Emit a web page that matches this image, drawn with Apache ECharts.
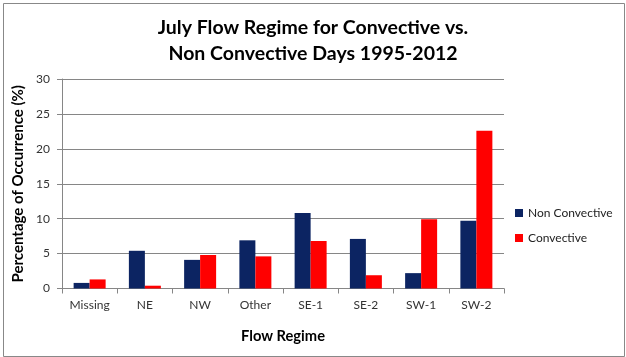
<!DOCTYPE html>
<html>
<head>
<meta charset="utf-8">
<script src="https://cdn.jsdelivr.net/npm/echarts@6/dist/echarts.min.js"></script>
<style>
html,body{margin:0;padding:0;background:#fff;}
#chart{width:626px;height:357px;}
</style>
</head>
<body>
<div id="chart"></div>
<script>
const categories = ['Missing', 'NE', 'NW', 'Other', 'SE-1', 'SE-2', 'SW-1', 'SW-2'];
const nonConvective = [0.8, 5.4, 4.1, 6.9, 10.8, 7.1, 2.2, 9.7];
const convective = [1.3, 0.4, 4.8, 4.6, 6.8, 1.9, 9.9, 22.6];
const yTicks = [0, 5, 10, 15, 20, 25, 30];

const FONT = 'Lato, "Open Sans", sans-serif';
const chart = echarts.init(document.getElementById('chart'), null, {renderer: 'canvas'});
chart.setOption({
  backgroundColor: '#fff',
  animation: false,
  title: {
    text: 'July Flow Regime for Convective vs.\nNon Convective Days 1995-2012',
    left: 'center',
    top: 10,
    textStyle: {fontFamily: FONT, fontSize: 19.5, fontWeight: 'bold', color: '#000', lineHeight: 26}
  },
  graphic: [{
    type: 'rect', left: 1, top: 1,
    shape: {x: 1.5, y: 1.5, width: 621, height: 353},
    style: {fill: 'none', stroke: '#888', lineWidth: 1},
    silent: true
  }],
  legend: {
    orient: 'vertical',
    left: 510,
    top: 202,
    itemWidth: 8,
    itemHeight: 8,
    itemGap: 13,
    icon: 'rect',
    textStyle: {fontFamily: FONT, fontSize: 12, color: '#222'},
    data: ['Non Convective', 'Convective']
  },
  grid: {left: 62, right: 122, top: 79, bottom: 68.5},
  xAxis: {
    type: 'category',
    data: categories,
    name: 'Flow Regime',
    nameLocation: 'middle',
    nameGap: 40,
    nameTextStyle: {fontFamily: FONT, fontSize: 14.7, fontWeight: 'bold', color: '#000'},
    axisLine: {lineStyle: {color: '#868686'}},
    axisTick: {show: true, length: 5, lineStyle: {color: '#868686'}},
    axisLabel: {fontFamily: FONT, fontSize: 12, color: '#333', margin: 11}
  },
  yAxis: {
    type: 'value',
    min: yTicks[0],
    max: yTicks[yTicks.length - 1],
    interval: yTicks[1] - yTicks[0],
    name: 'Percentage of Occurrence (%)',
    nameLocation: 'middle',
    nameGap: 33,
    nameTextStyle: {fontFamily: FONT, fontSize: 15, fontWeight: 'bold', color: '#000'},
    axisLine: {show: true, lineStyle: {color: '#868686'}},
    axisTick: {show: true, length: 5, lineStyle: {color: '#868686'}},
    axisLabel: {fontFamily: FONT, fontSize: 12, color: '#333', margin: 12},
    splitLine: {lineStyle: {color: '#868686'}}
  },
  series: [
    {name: 'Non Convective', type: 'bar', data: nonConvective, barWidth: 16, barGap: '0%',
     itemStyle: {color: '#0C2462'}},
    {name: 'Convective', type: 'bar', data: convective, barWidth: 16, barGap: '0%',
     itemStyle: {color: '#FF0000'}}
  ]
});
</script>
</body>
</html>
